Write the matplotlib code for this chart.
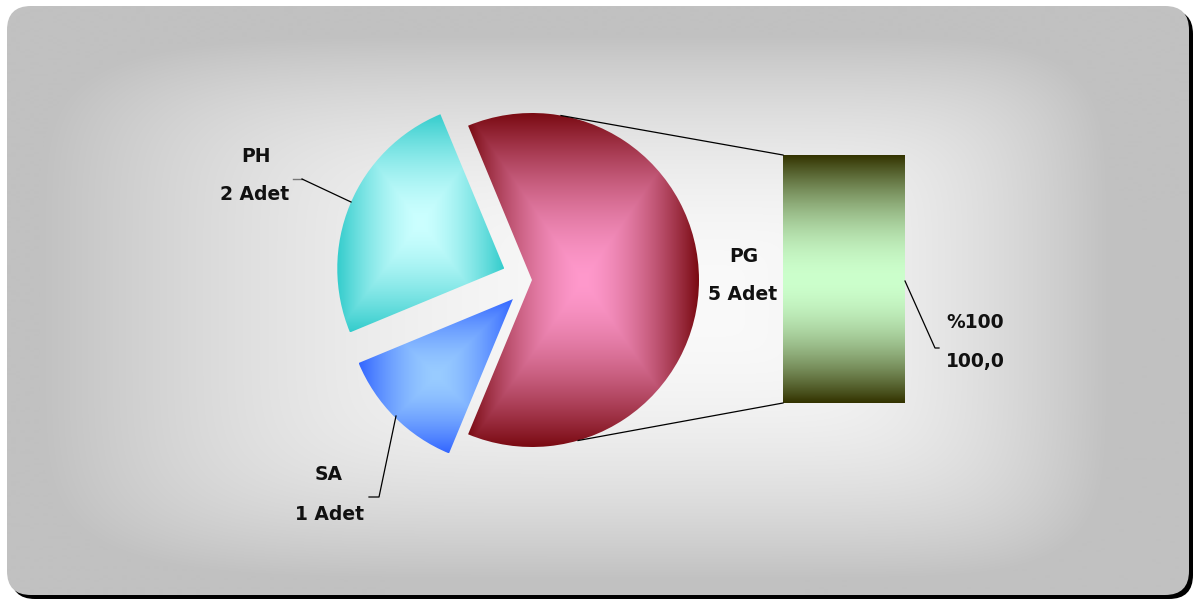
import numpy as np
import matplotlib
matplotlib.use("Agg")
import matplotlib.pyplot as plt
from matplotlib.patches import Wedge, FancyBboxPatch, Rectangle
from matplotlib.colors import to_rgb

# data
categories = ['PG', 'PH', 'SA']
counts = [5, 2, 1]
value_labels = ['5 Adet', '2 Adet', '1 Adet']
bar_labels = ['%100', '100,0']

# colours: (centre, edge) of each slice gradient
slice_colors = [('#ff99cc', '#7a0a12'), ('#ccffff', '#33cccc'), ('#99ccff', '#3366ff')]
bar_colors = ('#ccffcc', '#333300')

W, H = 1195, 599
fig = plt.figure(figsize=(W / 100, H / 100), dpi=100)
ax = fig.add_axes([0, 0, 1, 1])
ax.set_xlim(0, W)
ax.set_ylim(H, 0)
ax.axis('off')


def blend(t, c_in, c_out):
    a = np.array(to_rgb(c_in))
    b = np.array(to_rgb(c_out))
    return a[None, None, :] * (1 - t[..., None]) + b[None, None, :] * t[..., None]


def rect_gradient(x0, x1, y0, y1, c_in, c_out, power=1.0, clip=None, z=1, n=300, vertical_only=False):
    xs = np.linspace(-1, 1, n)
    ys = np.linspace(-1, 1, n)
    X, Y = np.meshgrid(xs, ys)
    if vertical_only:
        t = np.abs(Y)
    else:
        t = np.maximum(np.abs(X), np.abs(Y))
    t = t ** power
    im = ax.imshow(blend(t, c_in, c_out), extent=(x0, x1, y1, y0), zorder=z,
                   interpolation='bilinear', aspect='auto')
    if clip is not None:
        im.set_clip_path(clip)
    return im


# background panel with shadow
bx0, by0, bx1, by1 = 7, 6, 1189, 595
shadow = FancyBboxPatch((bx0 + 4, by0 + 4), bx1 - bx0, by1 - by0,
                        boxstyle="round,pad=0,rounding_size=24", fc='black', ec='none', zorder=0)
ax.add_patch(shadow)
panel = FancyBboxPatch((bx0, by0), bx1 - bx0, by1 - by0,
                       boxstyle="round,pad=0,rounding_size=24", fc='none', ec='none', zorder=0.5)
ax.add_patch(panel)

# soft, rounded-rectangle shaped light spot behind the chart
gx = np.arange(bx0, bx1 + 1)
gy = np.arange(by0, by1 + 1)
GX, GY = np.meshgrid(gx, gy)
cx, cy = 690.0, 300.0
dx = np.where(GX < cx, (cx - GX) / 650.0, (GX - cx) / 420.0)
dy = np.where(GY < cy, (cy - GY) / 265.0, (GY - cy) / 280.0)
t = np.clip((dx ** 6 + dy ** 6) ** (1 / 6), 0, 1) ** 2.0
bg = ax.imshow(blend(t, '#fafafa', '#c1c1c1'), extent=(bx0, bx1, by1, by0), zorder=0.6,
               interpolation='bilinear', aspect='auto')
bg.set_clip_path(panel)

# pie geometry
pg_center = np.array([532.0, 280.0])
radius = 167.0
explode = [0.0, 30.0, 27.0]
total = sum(counts)
spans = [360.0 * c / total for c in counts]

start = -spans[0] / 2.0
for i, (cat, span) in enumerate(zip(categories, spans)):
    a1, a2 = start, start + span  # screen angles, counter-clockwise
    mid = np.radians((a1 + a2) / 2.0)
    c = pg_center + explode[i] * np.array([np.cos(mid), -np.sin(mid)])
    # y axis points down, so angles flip sign in data coords
    w = Wedge(tuple(c), radius, -a2, -a1, fc='none', ec='none', zorder=2)
    ax.add_patch(w)
    angs = np.radians(np.linspace(a1, a2, 200))
    px = np.concatenate([[c[0]], c[0] + radius * np.cos(angs)])
    py = np.concatenate([[c[1]], c[1] - radius * np.sin(angs)])
    rect_gradient(px.min(), px.max(), py.min(), py.max(), slice_colors[i][0], slice_colors[i][1],
                  power=1.6, clip=w, z=2)
    start = a2

# bar of the secondary plot
bar_x0, bar_x1, bar_y0, bar_y1 = 783, 905, 155, 403
bar = Rectangle((bar_x0, bar_y0), bar_x1 - bar_x0, bar_y1 - bar_y0, fc='none', ec='none', zorder=2)
ax.add_patch(bar)
rect_gradient(bar_x0, bar_x1, bar_y0, bar_y1, bar_colors[0], bar_colors[1], power=1.8,
              clip=bar, z=2, vertical_only=True)

# connector lines from pie to bar
top_a, bot_a = np.radians(80), np.radians(-74)
ax.plot([pg_center[0] + radius * np.cos(top_a), bar_x0], [pg_center[1] - radius * np.sin(top_a), bar_y0],
        color='black', lw=0.9, zorder=3)
ax.plot([pg_center[0] + radius * np.cos(bot_a), bar_x0], [pg_center[1] - radius * np.sin(bot_a), bar_y1],
        color='black', lw=0.9, zorder=3)

# labels
fs = 13.5
tc = '#111111'
kw = dict(fontsize=fs, fontweight='bold', color=tc, ha='center', va='center', family='DejaVu Sans', zorder=4)
ax.text(744, 256, categories[0], **kw)
ax.text(743, 295, value_labels[0], **kw)
ax.text(256, 157, categories[1], **kw)
ax.text(255, 194, value_labels[1], **kw)
ax.text(329, 474, categories[2], **kw)
ax.text(330, 514, value_labels[2], **kw)
ax.text(975, 323, bar_labels[0], **kw)
ax.text(975, 362, bar_labels[1], **kw)

# leader lines
ax.plot([293, 302], [179, 179], color='#777777', lw=1.0, zorder=3)
ax.plot([302, 351], [179, 202], color='black', lw=0.9, zorder=3)
ax.plot([369, 379, 396], [497, 497, 416], color='black', lw=0.9, zorder=3)
ax.plot([905, 935, 939], [281, 348, 348], color='black', lw=0.9, zorder=3)

fig.savefig('out.png', dpi=100, facecolor='white')
